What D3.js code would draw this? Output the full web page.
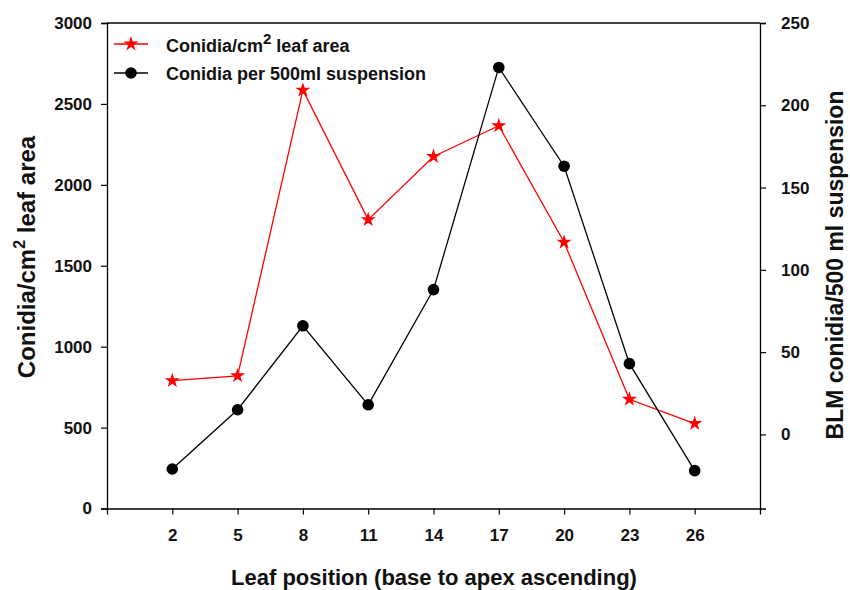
<!DOCTYPE html>
<html>
<head>
<meta charset="utf-8">
<script src="https://cdn.jsdelivr.net/npm/d3@7"></script>
<style>
  html, body { margin: 0; padding: 0; background: #fff; }
  svg { display: block; font-family: "Liberation Sans", Arial, sans-serif; font-weight: bold; }
</style>
</head>
<body>
<svg id="chart" width="850" height="590"></svg>
<script>
// Leaf positions along the shoot
const leafPositions = [2, 5, 8, 11, 14, 17, 20, 23, 26];
// Conidia per cm² of leaf area (left axis)
const conidiaPerArea = [790, 820, 2585, 1785, 2175, 2365, 1645, 675, 525];
// Conidia per 500 ml suspension (right axis)
const conidiaPerSuspension = [-21, 15, 66, 18, 88, 223, 163, 43, -22];

const leftTicks = [0, 500, 1000, 1500, 2000, 2500, 3000];
const rightTicks = [0, 50, 100, 150, 200, 250];

const margin = { left: 107, right: 760, top: 23, bottom: 508.5 };
const svg = d3.select("#chart");

const x = d3.scaleLinear().domain([-1, 29]).range([margin.left, margin.right]);
const yL = d3.scaleLinear().domain([0, 3000]).range([margin.bottom, margin.top]);
const yR = d3.scaleLinear().domain([-45, 250]).range([margin.bottom, margin.top]);

// Frame: top edge
svg.append("line")
  .attr("x1", margin.left).attr("x2", margin.right)
  .attr("y1", margin.top).attr("y2", margin.top)
  .attr("stroke", "#000").attr("stroke-width", 1.3);

function styleAxis(g, size) {
  g.select(".domain").attr("stroke", "#000").attr("stroke-width", 1.3);
  g.selectAll(".tick line").attr("stroke", "#000").attr("stroke-width", 1.2);
  g.selectAll(".tick text")
    .attr("fill", "#111")
    .style("font-size", size + "px")
    .style("font-weight", "bold")
    .style("font-family", "'Liberation Sans', Arial, sans-serif");
}

// Bottom axis
const gx = svg.append("g")
  .attr("transform", `translate(0,${margin.bottom})`)
  .call(d3.axisBottom(x).tickValues(leafPositions).tickSizeOuter(0).tickSize(6).tickPadding(14));
styleAxis(gx, 17);

// Left axis
const gl = svg.append("g")
  .attr("transform", `translate(${margin.left},0)`)
  .call(d3.axisLeft(yL).tickValues(leftTicks).tickFormat(d3.format("d"))
    .tickSizeOuter(0).tickSize(6).tickPadding(9));
styleAxis(gl, 17);

// Right axis
const gr = svg.append("g")
  .attr("transform", `translate(${margin.right},0)`)
  .call(d3.axisRight(yR).tickValues(rightTicks).tickFormat(d3.format("d"))
    .tickSizeOuter(0).tickSize(6).tickPadding(15));
styleAxis(gr, 17);

// Axis titles
svg.append("text")
  .attr("x", 434).attr("y", 585)
  .attr("text-anchor", "middle")
  .style("font-size", "22px").attr("fill", "#111")
  .text("Leaf position (base to apex ascending)");

const lt = svg.append("text")
  .attr("transform", "translate(35,257) rotate(-90)")
  .attr("text-anchor", "middle")
  .style("font-size", "24px").attr("fill", "#111");
lt.append("tspan").text("Conidia/cm");
lt.append("tspan").attr("dy", -10).style("font-size", "16px").text("2");
lt.append("tspan").attr("dy", 10).text(" leaf area");

svg.append("text")
  .attr("transform", "translate(843,265) rotate(-90)")
  .attr("text-anchor", "middle")
  .style("font-size", "23px").attr("fill", "#111")
  .text("BLM conidia/500 ml suspension");

// Series
const star = d3.symbol().type(d3.symbolStar).size(70);

const redLine = d3.line()
  .x((d, i) => x(leafPositions[i]))
  .y(d => yL(d));
svg.append("path")
  .datum(conidiaPerArea)
  .attr("d", redLine)
  .attr("fill", "none").attr("stroke", "#ff0000").attr("stroke-width", 1.3);

const blackLine = d3.line()
  .x((d, i) => x(leafPositions[i]))
  .y(d => yR(d));
svg.append("path")
  .datum(conidiaPerSuspension)
  .attr("d", blackLine)
  .attr("fill", "none").attr("stroke", "#000").attr("stroke-width", 1.3);

svg.selectAll(".star").data(conidiaPerArea).enter().append("path")
  .attr("class", "star")
  .attr("d", star)
  .attr("transform", (d, i) => `translate(${x(leafPositions[i])},${yL(d)})`)
  .attr("fill", "#ff0000");

svg.selectAll(".dot").data(conidiaPerSuspension).enter().append("circle")
  .attr("class", "dot")
  .attr("cx", (d, i) => x(leafPositions[i]))
  .attr("cy", d => yR(d))
  .attr("r", 5.8)
  .attr("fill", "#000");

// Legend
const legend = svg.append("g").attr("transform", "translate(114,0)");
legend.append("line").attr("x1", 0).attr("x2", 34).attr("y1", 44).attr("y2", 44)
  .attr("stroke", "#ff0000").attr("stroke-width", 1.3);
legend.append("path").attr("d", star).attr("transform", "translate(17,44)").attr("fill", "#ff0000");
const l1 = legend.append("text").attr("x", 52).attr("y", 52)
  .style("font-size", "18px").attr("fill", "#111");
l1.append("tspan").text("Conidia/cm");
l1.append("tspan").attr("dy", -8).style("font-size", "15px").text("2");
l1.append("tspan").attr("dy", 8).text(" leaf area");

legend.append("line").attr("x1", 0).attr("x2", 34).attr("y1", 73).attr("y2", 73)
  .attr("stroke", "#000").attr("stroke-width", 1.3);
legend.append("circle").attr("cx", 17).attr("cy", 73).attr("r", 5.8).attr("fill", "#000");
legend.append("text").attr("x", 52).attr("y", 80)
  .style("font-size", "18px").attr("fill", "#111")
  .text("Conidia per 500ml suspension");
</script>
</body>
</html>
